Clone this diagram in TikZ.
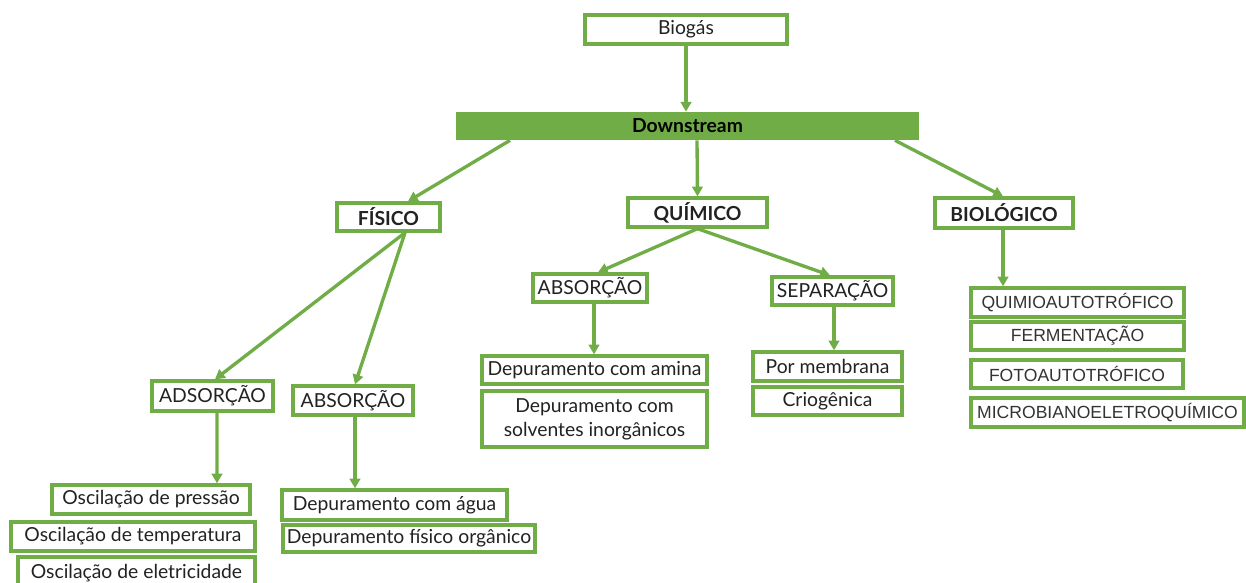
\documentclass[tikz,border=0pt]{standalone}
\usepackage{fontspec}
\setmainfont{Lato}
\newfontfamily\arialfont{Liberation Sans}
\usetikzlibrary{arrows.meta}
\definecolor{leaf}{HTML}{70AD47}
\definecolor{ink}{HTML}{222222}
\newdimen\pxu \pxu=0.02cm
\begin{document}
\begin{tikzpicture}[x=0.02cm,y=-0.02cm,
  wh/.style 2 args={minimum width=#1\pxu, minimum height=#2\pxu},
  box/.style={draw=leaf, line width=1.9pt, fill=white, inner sep=0pt,
    align=center, text=ink, font=\fontsize{11}{13.5}\selectfont},
  head/.style={box, font=\fontsize{11}{13.5}\selectfont\bfseries},
  biobox/.style={box, text=black!80, font=\arialfont\fontsize{10}{12}\selectfont},
  bar/.style={fill=leaf, inner sep=0pt, text=black,
    font=\fontsize{11}{13.5}\selectfont\bfseries},
  link/.style={draw=leaf, line width=1.9pt, -{Triangle[length=5.5pt,width=6pt]}}]
\useasboundingbox (0,0) rectangle (1246,582);
\clip (0,0) rectangle (1246,582);

% top of the tree
\node[box, wh={202}{29}] (biogas) at (686,29.5) {Biogás};
\node[bar, wh={463}{28}] (down) at (687.5,126) {Downstream};

% three families of processes
\node[head, wh={103}{28}] (fisico) at (388.5,217) {FÍSICO};
\node[head, wh={139}{29}] (quimico) at (697.5,212.5) {QUÍMICO};
\node[head, wh={138}{30}] (bio) at (1004,213) {BIOLÓGICO};

% physical branch
\node[box, wh={121}{30}] (adsor) at (212.5,396) {ADSORÇÃO};
\node[box, wh={120}{29}] (absorf) at (353,400.5) {ABSORÇÃO};
\node[box, wh={198}{29}] (pressao) at (151,499.5) {Oscilação de pressão};
\node[box, wh={244}{29}] (temper) at (133,536.5) {Oscilação de temperatura};
\node[box, wh={237}{34}] (eletr) at (136.5,574) {\raisebox{2.5pt}{Oscilação de eletricidade}};
\node[box, wh={225}{30}] (agua) at (394.5,505) {Depuramento com água};
\node[box, wh={252}{27}] (organ) at (409,538.5) {Depuramento físico orgânico};

% chemical branch
\node[box, wh={114}{28}] (absorq) at (590,288) {ABSORÇÃO};
\node[box, wh={121}{28}] (separ) at (832.5,291) {SEPARAÇÃO};
\node[box, wh={225}{28}] (amina) at (594.5,370) {Depuramento com amina};
\node[box, wh={225}{56}] (solv) at (594.5,419) {Depuramento com\\solventes inorgânicos};
\node[box, wh={149}{29}] (membr) at (827.5,366.5) {Por membrana};
\node[box, wh={149}{28}] (crio) at (827.5,401) {Criogênica};

% biological branch
\node[biobox, wh={213}{29}] (quimio) at (1077.5,302.5) {QUIMIOAUTOTRÓFICO};
\node[biobox, wh={213}{28}] (ferm) at (1077.5,336) {FERMENTAÇÃO};
\node[biobox, wh={212}{28}] (foto) at (1077,374) {FOTOAUTOTRÓFICO};
\node[biobox, wh={273}{29}] (micro) at (1107.5,412.5) {MICROBIANOELETROQUÍMICO};

% connectors
\draw[link] (biogas.south) -- (biogas.south |- down.north);
\draw[link] ([xshift=-177.5\pxu]down.south) -- ([xshift=19.5\pxu]fisico.north);
\draw[link] ([xshift=9.5\pxu]down.south) -- (quimico.north);
\draw[link] ([xshift=207.5\pxu]down.south) -- ([xshift=-1\pxu]bio.north);

\draw[link] ([xshift=16.5\pxu]fisico.south) -- ([xshift=2.5\pxu]adsor.north);
\draw[link] ([xshift=16.5\pxu]fisico.south) -- ([xshift=2\pxu]absorf.north);
\draw[link] ([xshift=4.5\pxu]adsor.south) -- ([xshift=66\pxu]pressao.north);
\draw[link] ([xshift=2\pxu]absorf.south) -- ([xshift=-39.5\pxu]agua.north);

\draw[link] (quimico.south) -- ([xshift=8\pxu]absorq.north);
\draw[link] (quimico.south) -- ([xshift=-2.5\pxu]separ.north);
\draw[link] ([xshift=4\pxu]absorq.south) -- ([xshift=-0.5\pxu]amina.north);
\draw[link] ([xshift=1.5\pxu]separ.south) -- ([xshift=6.5\pxu]membr.north);

\draw[link] ([xshift=-1\pxu]bio.south) -- ([xshift=-74.5\pxu]quimio.north);
\end{tikzpicture}
\end{document}
